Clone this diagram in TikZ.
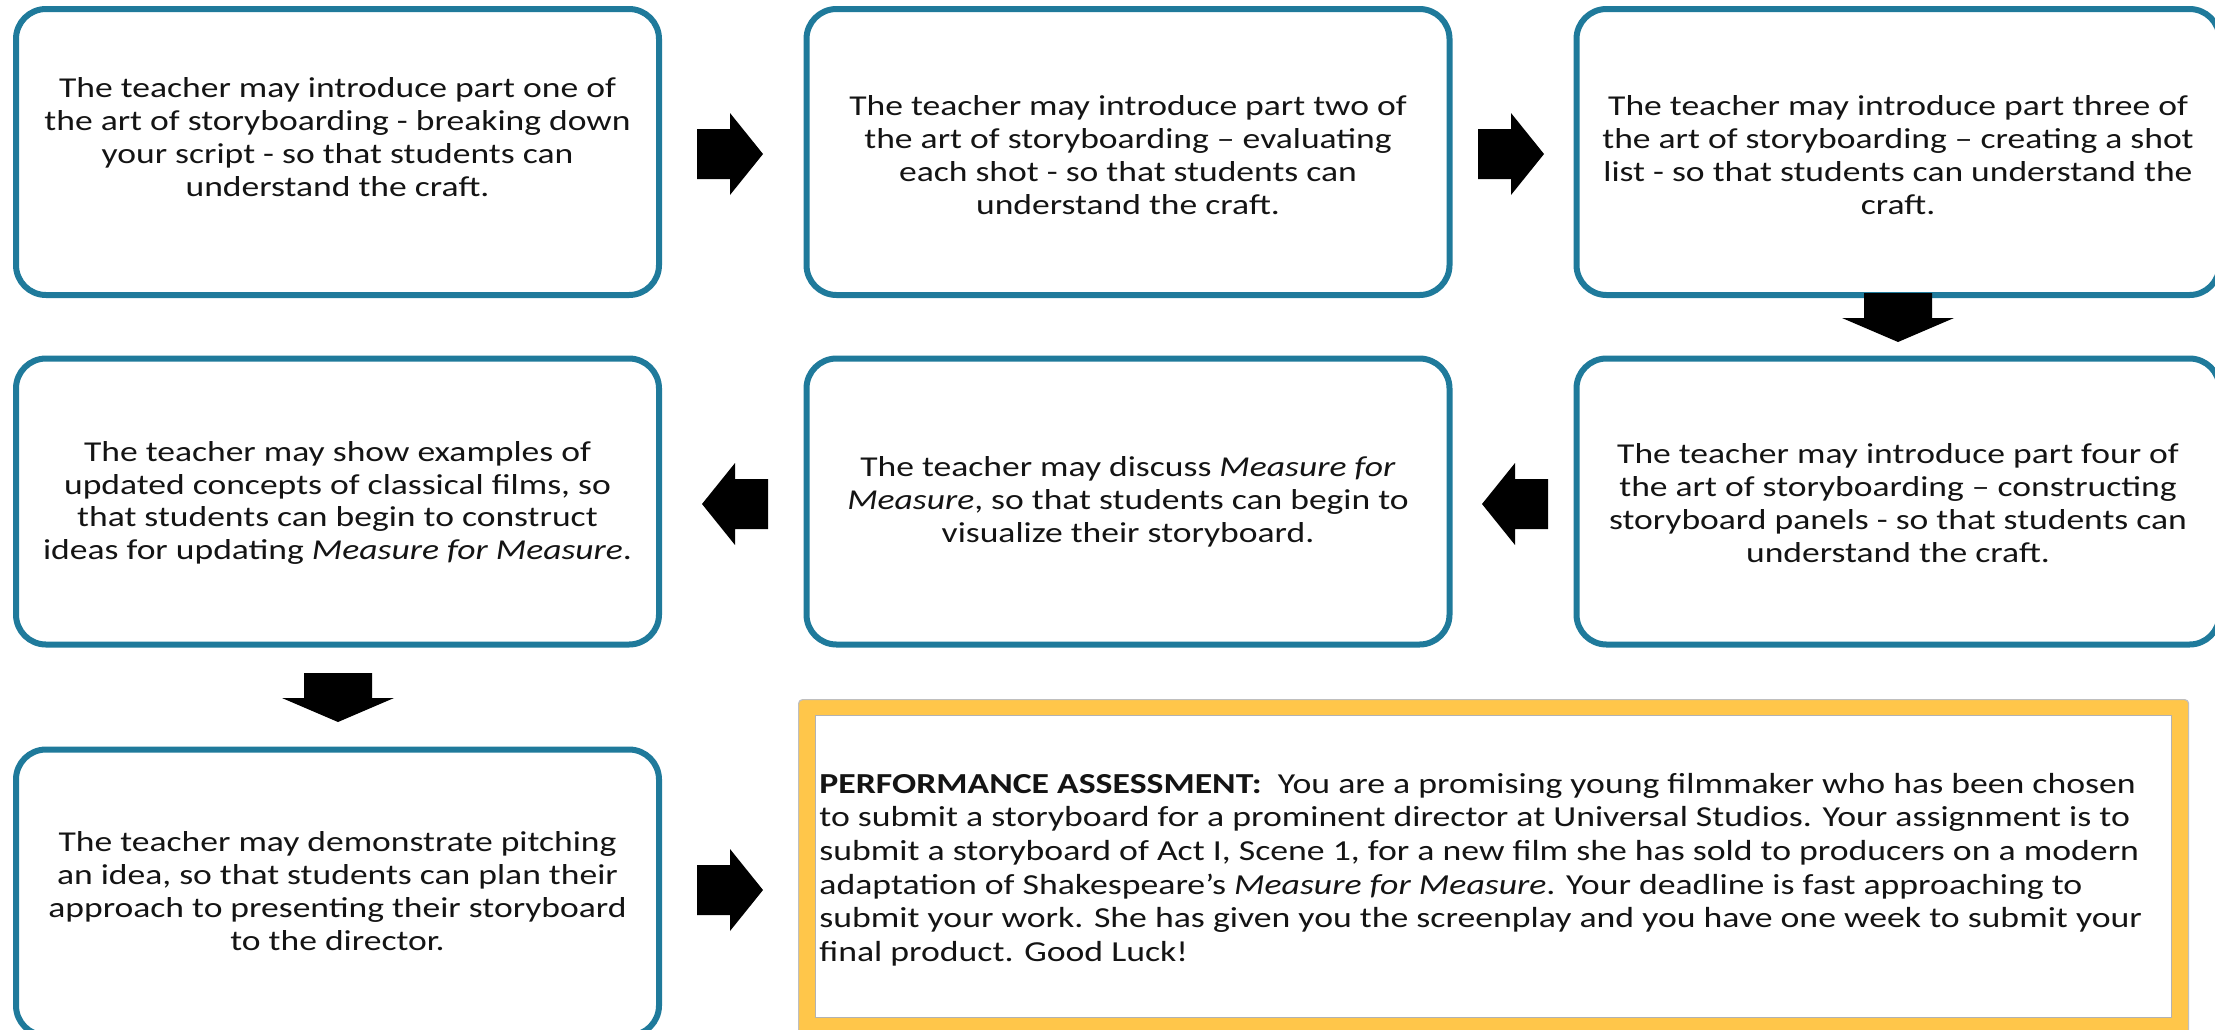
\documentclass[tikz,border=0pt]{standalone}
\usepackage{fontspec}
\setmainfont{Carlito}
\newfontfamily\boxfont[FakeStretch=1.235]{Carlito}
\newfontfamily\pafont[FakeStretch=1.232]{Carlito}
\definecolor{boxblue}{RGB}{31,122,155}
\definecolor{gold}{RGB}{255,198,74}
\definecolor{txt}{RGB}{20,20,20}
\begin{document}
\begin{tikzpicture}[x=0.5pt,y=-0.5pt,
  stepbox/.style={draw=boxblue, line width=3pt, rounded corners=15pt, fill=white,
    minimum width=321.5pt, minimum height=143pt, inner sep=0pt},
  boxtext/.style={align=center, text=txt, inner sep=0pt,
    font=\boxfont\fontsize{14.4pt}{16.4pt}\selectfont},
  patext/.style={align=left, text=txt, inner sep=0pt, anchor=west,
    font=\pafont\fontsize{14.5pt}{16.8pt}\selectfont},
  rarr/.pic={\fill[black] (0,0) -- (-33,-41) -- (-33,-25) -- (-66,-25) -- (-66,25) -- (-33,25) -- (-33,41) -- cycle;},
  larr/.pic={\fill[black] (0,0) -- (33,-41) -- (33,-25) -- (66,-25) -- (66,25) -- (33,25) -- (33,41) -- cycle;},
  darr/.pic={\fill[black] (0,0) -- (-56,-24) -- (-34,-24) -- (-34,-49) -- (34,-49) -- (34,-24) -- (56,-24) -- cycle;}
]
\useasboundingbox (0,0) rectangle (2215,1029);
\fill[white] (0,0) rectangle (2215,1029);

% boxes
\node[stepbox] (b1) at (337.5,152) {};
\node[stepbox] (b2) at (1128,152) {};
\node[stepbox] (b3) at (1898,152) {};
\node[stepbox] (b4) at (337.5,501.5) {};
\node[stepbox] (b5) at (1128,501.5) {};
\node[stepbox] (b6) at (1898,501.5) {};
\node[stepbox] (b7) at (337.5,892.5) {};

% texts
\node[boxtext] (t1) at (337.5,137) {The teacher may introduce part one of\\the art of storyboarding - breaking down\\your script - so that students can\\understand the craft.};
\node[boxtext] (t2) at (1128,155) {The teacher may introduce part two of\\the art of storyboarding – evaluating\\each shot - so that students can\\understand the craft.};
\node[boxtext] (t3) at (1898,155) {The teacher may introduce part three of\\the art of storyboarding – creating a shot\\list - so that students can understand the\\craft.};
\node[boxtext] (t4) at (337.5,503) {The teacher may show examples of\\updated concepts of classical films, so\\that students can begin to construct\\ideas for updating \textit{Measure for Measure}.};
\node[boxtext] (t5) at (1128,502) {The teacher may discuss \textit{Measure for}\\\textit{Measure}, so that students can begin to\\visualize their storyboard.};
\node[boxtext] (t6) at (1898,503) {The teacher may introduce part four of\\the art of storyboarding – constructing\\storyboard panels - so that students can\\understand the craft.};
\node[boxtext] (t7) at (337.5,891) {The teacher may demonstrate pitching\\an idea, so that students can plan their\\approach to presenting their storyboard\\to the director.};

% performance assessment box
\node[draw=black!25, line width=0.6pt, fill=gold, rounded corners=2pt, inner sep=0pt,
  minimum width=695pt, minimum height=175pt, anchor=north west] (pa) at (798,699) {};
\node[draw=black!30, line width=0.6pt, fill=white, inner sep=0pt,
  minimum width=678pt, minimum height=151pt, anchor=north west] (pain) at (815,715) {};
\node[patext] (pat) at (819,869.5) {\textbf{PERFORMANCE ASSESSMENT:}\ \ You are a promising young filmmaker who has been chosen\\to submit a storyboard for a prominent director at Universal Studios. Your assignment is to\\submit a storyboard of Act I, Scene 1, for a new film she has sold to producers on a modern\\adaptation of Shakespeare’s \textit{Measure for Measure}. Your deadline is fast approaching to\\submit your work. She has given you the screenplay and you have one week to submit your\\final product. Good Luck!};

% block arrows
\pic at (763,154) {rarr};
\pic at (1544,154) {rarr};
\pic at (1898,342) {darr};
\pic at (702,504) {larr};
\pic at (1482,504) {larr};
\pic at (338,722) {darr};
\pic at (763,890) {rarr};
\end{tikzpicture}
\end{document}
